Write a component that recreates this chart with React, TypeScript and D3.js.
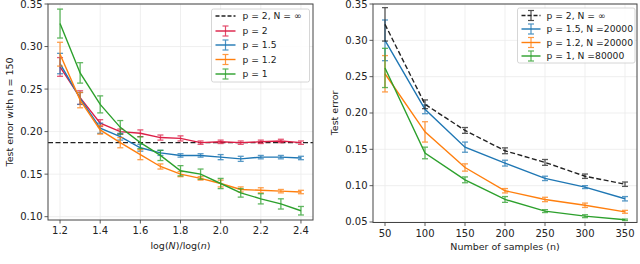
import React, { useEffect, useRef } from 'react';
import * as d3 from 'd3';

// left panel: test error vs log(N)/log(n), n = 150
const ratios = [1.2, 1.3, 1.4, 1.5, 1.6, 1.7, 1.8, 1.9, 2.0, 2.1, 2.2, 2.3, 2.4];
const errP2 = [0.276, 0.240, 0.210, 0.200, 0.198, 0.193, 0.192, 0.187, 0.188, 0.187, 0.188, 0.189, 0.187];
const errP2Sd = [0.011, 0.008, 0.004, 0.003, 0.004, 0.003, 0.003, 0.002, 0.002, 0.002, 0.002, 0.002, 0.002];
const errP15 = [0.280, 0.239, 0.204, 0.194, 0.181, 0.175, 0.172, 0.172, 0.170, 0.168, 0.170, 0.170, 0.169];
const errP15Sd = [0.012, 0.007, 0.006, 0.004, 0.004, 0.003, 0.002, 0.002, 0.003, 0.003, 0.002, 0.002, 0.002];
const errP12 = [0.291, 0.237, 0.202, 0.187, 0.173, 0.159, 0.150, 0.145, 0.139, 0.132, 0.131, 0.130, 0.129];
const errP12Sd = [0.014, 0.009, 0.005, 0.006, 0.006, 0.003, 0.003, 0.002, 0.004, 0.003, 0.003, 0.002, 0.002];
const errP1 = [0.327, 0.269, 0.232, 0.205, 0.187, 0.172, 0.154, 0.150, 0.139, 0.128, 0.121, 0.115, 0.107];
const errP1Sd = [0.017, 0.012, 0.010, 0.008, 0.007, 0.006, 0.006, 0.006, 0.006, 0.005, 0.006, 0.006, 0.005];
const baselineInf = 0.187;

// right panel: test error vs number of samples
const samples = [50, 100, 150, 200, 250, 300, 350];
const errInf = [0.322, 0.212, 0.176, 0.148, 0.132, 0.113, 0.102];
const errInfSd = [0.023, 0.006, 0.004, 0.004, 0.004, 0.003, 0.003];
const err15 = [0.300, 0.205, 0.153, 0.131, 0.110, 0.098, 0.082];
const err15Sd = [0.028, 0.006, 0.007, 0.004, 0.003, 0.002, 0.003];
const err12 = [0.254, 0.174, 0.125, 0.093, 0.081, 0.073, 0.064];
const err12Sd = [0.025, 0.014, 0.005, 0.003, 0.003, 0.003, 0.002];
const err1 = [0.262, 0.145, 0.108, 0.081, 0.065, 0.058, 0.053];
const err1Sd = [0.027, 0.008, 0.004, 0.004, 0.002, 0.002, 0.001];

const leftXTicks = [1.2, 1.4, 1.6, 1.8, 2.0, 2.2, 2.4];
const leftYTicks = [0.10, 0.15, 0.20, 0.25, 0.30, 0.35];
const rightXTicks = [50, 100, 150, 200, 250, 300, 350];
const rightYTicks = [0.05, 0.10, 0.15, 0.20, 0.25, 0.30, 0.35];

const leftLabels = ['p = 2, N = \u221e', 'p = 2', 'p = 1.5', 'p = 1.2', 'p = 1'];
const rightLabels = ['p = 2, N = \u221e', 'p = 1.5, N =20000', 'p = 1.2, N =20000', 'p = 1, N =80000'];

const RED = '#dc1e46';
const BLUE = '#1f77b4';
const ORANGE = '#ff7f0e';
const GREEN = '#2ca02c';
const FONT = 'DejaVu Sans, sans-serif';

type Series = { xs: number[]; ys: number[]; sd: number[]; color: string; dashed?: boolean };

function drawFrame(g, x, y, xTicks, yTicks, fmtX) {
  const [x0, x1] = x.range();
  const [y0, y1] = y.range();
  g.selectAll('.gx').data(xTicks).enter().append('line')
    .attr('x1', d => x(d)).attr('x2', d => x(d)).attr('y1', y0).attr('y2', y1)
    .attr('stroke', '#ebebeb').attr('stroke-width', 0.8);
  g.selectAll('.gy').data(yTicks).enter().append('line')
    .attr('x1', x0).attr('x2', x1).attr('y1', d => y(d)).attr('y2', d => y(d))
    .attr('stroke', '#ebebeb').attr('stroke-width', 0.8);
  // ticks + labels
  xTicks.forEach(t => {
    g.append('line').attr('x1', x(t)).attr('x2', x(t)).attr('y1', y0).attr('y2', y0 + 3.5)
      .attr('stroke', '#333').attr('stroke-width', 0.8);
    g.append('text').attr('x', x(t)).attr('y', y0 + 14).attr('text-anchor', 'middle')
      .attr('font-family', FONT).attr('font-size', 10).attr('fill', '#222').text(fmtX(t));
  });
  yTicks.forEach(t => {
    g.append('line').attr('x1', x0).attr('x2', x0 - 3.5).attr('y1', y(t)).attr('y2', y(t))
      .attr('stroke', '#333').attr('stroke-width', 0.8);
    g.append('text').attr('x', x0 - 5.5).attr('y', y(t)).attr('dy', '0.35em').attr('text-anchor', 'end')
      .attr('font-family', FONT).attr('font-size', 10).attr('fill', '#222').text(d3.format('.2f')(t));
  });
}

function drawSeries(g, x, y, s: Series) {
  const pts = s.xs.map((v, i) => ({ x: v, y: s.ys[i], e: s.sd[i] }));
  const bars = g.append('g').attr('stroke', s.color).attr('stroke-width', 1.3).attr('opacity', 0.75);
  pts.forEach(p => {
    bars.append('line').attr('x1', x(p.x)).attr('x2', x(p.x)).attr('y1', y(p.y - p.e)).attr('y2', y(p.y + p.e));
    [p.y - p.e, p.y + p.e].forEach(c => {
      bars.append('line').attr('x1', x(p.x) - 3).attr('x2', x(p.x) + 3).attr('y1', y(c)).attr('y2', y(c));
    });
  });
  const line = d3.line<any>().x(d => x(d.x)).y(d => y(d.y));
  g.append('path').attr('d', line(pts)).attr('fill', 'none').attr('stroke', s.color)
    .attr('stroke-width', 1.4).attr('stroke-dasharray', s.dashed ? '5,2.5' : null);
}

function drawLegend(g, left, top, width, height, items, rowY: number[], withBar: boolean[], handleW: number, textX: number) {
  g.append('rect').attr('x', left).attr('y', top).attr('width', width).attr('height', height)
    .attr('rx', 2).attr('fill', 'white').attr('fill-opacity', 0.85).attr('stroke', '#cccccc').attr('stroke-width', 0.8);
  items.forEach((it, i) => {
    const cy = rowY[i];
    const hx = left + 4;
    const mid = hx + handleW / 2;
    g.append('line').attr('x1', hx).attr('x2', hx + handleW).attr('y1', cy).attr('y2', cy)
      .attr('stroke', it.color).attr('stroke-width', 1.4).attr('stroke-dasharray', it.dashed ? '4,2' : null);
    if (withBar[i]) {
      const b = g.append('g').attr('stroke', it.color).attr('stroke-width', 1.2).attr('opacity', 0.8);
      b.append('line').attr('x1', mid).attr('x2', mid).attr('y1', cy - 5).attr('y2', cy + 5);
      b.append('line').attr('x1', mid - 3).attr('x2', mid + 3).attr('y1', cy - 5).attr('y2', cy - 5);
      b.append('line').attr('x1', mid - 3).attr('x2', mid + 3).attr('y1', cy + 5).attr('y2', cy + 5);
    }
    g.append('text').attr('x', left + textX).attr('y', cy).attr('dy', '0.35em')
      .attr('font-family', FONT).attr('font-size', 9.2).attr('fill', '#222').text(it.label);
  });
}

const App = () => {
  const svgRef = useRef<SVGSVGElement>(null);

  useEffect(() => {
    const svg = d3.select(svgRef.current);
    svg.selectAll('*').remove();

    // ---- left panel ----
    const xL = d3.scaleLinear().domain([1.14, 2.46]).range([48, 313]);
    const yL = d3.scaleLinear().domain([0.0961, 0.35]).range([220, 4]);
    const gL = svg.append('g');
    drawFrame(gL, xL, yL, leftXTicks, leftYTicks, d3.format('.1f'));
    gL.append('line').attr('x1', 48).attr('x2', 313).attr('y1', yL(baselineInf)).attr('y2', yL(baselineInf))
      .attr('stroke', '#222').attr('stroke-width', 1.4).attr('stroke-dasharray', '5,2.5');
    const leftSeries: Series[] = [
      { xs: ratios, ys: errP2, sd: errP2Sd, color: RED },
      { xs: ratios, ys: errP15, sd: errP15Sd, color: BLUE },
      { xs: ratios, ys: errP12, sd: errP12Sd, color: ORANGE },
      { xs: ratios, ys: errP1, sd: errP1Sd, color: GREEN },
    ];
    leftSeries.forEach(s => drawSeries(gL, xL, yL, s));
    gL.append('rect').attr('x', 48).attr('y', 4).attr('width', 265).attr('height', 216)
      .attr('fill', 'none').attr('stroke', '#444').attr('stroke-width', 1);
    drawLegend(gL, 211.5, 9, 98, 73, [
      { label: leftLabels[0], color: '#222', dashed: true },
      { label: leftLabels[1], color: RED },
      { label: leftLabels[2], color: BLUE },
      { label: leftLabels[3], color: ORANGE },
      { label: leftLabels[4], color: GREEN },
    ], [16, 31, 45, 59.5, 74], [false, true, true, true, true], 20, 31);
    gL.append('text').attr('transform', 'translate(13,112) rotate(-90)').attr('text-anchor', 'middle')
      .attr('font-family', FONT).attr('font-size', 9.5).attr('fill', '#222').text('Test error with n = 150');
    const xl = gL.append('text').attr('x', 180.5).attr('y', 249).attr('text-anchor', 'middle')
      .attr('font-family', FONT).attr('font-size', 9.5).attr('fill', '#222');
    xl.append('tspan').text('log(');
    xl.append('tspan').attr('font-style', 'italic').text('N');
    xl.append('tspan').text(')/log(');
    xl.append('tspan').attr('font-style', 'italic').text('n');
    xl.append('tspan').text(')');

    // ---- right panel ----
    const xR = d3.scaleLinear().domain([35, 365]).range([373, 637]);
    const yR = d3.scaleLinear().domain([0.0493, 0.35]).range([222.5, 4]);
    const gR = svg.append('g');
    drawFrame(gR, xR, yR, rightXTicks, rightYTicks, d3.format('d'));
    const rightSeries: Series[] = [
      { xs: samples, ys: err15, sd: err15Sd, color: BLUE },
      { xs: samples, ys: err12, sd: err12Sd, color: ORANGE },
      { xs: samples, ys: err1, sd: err1Sd, color: GREEN },
      { xs: samples, ys: errInf, sd: errInfSd, color: '#222', dashed: true },
    ];
    rightSeries.forEach(s => drawSeries(gR, xR, yR, s));
    gR.append('rect').attr('x', 373).attr('y', 4).attr('width', 264).attr('height', 218.5)
      .attr('fill', 'none').attr('stroke', '#444').attr('stroke-width', 1);
    drawLegend(gR, 517.5, 8, 117.5, 55, [
      { label: rightLabels[0], color: '#222', dashed: true },
      { label: rightLabels[1], color: BLUE },
      { label: rightLabels[2], color: ORANGE },
      { label: rightLabels[3], color: GREEN },
    ], [15.5, 29, 42.5, 56], [true, true, true, true], 19, 29);
    gR.append('text').attr('transform', 'translate(338,113) rotate(-90)').attr('text-anchor', 'middle')
      .attr('font-family', FONT).attr('font-size', 9.5).attr('fill', '#222').text('Test error');
    gR.append('text').attr('x', 505).attr('y', 250).attr('text-anchor', 'middle')
      .attr('font-family', FONT).attr('font-size', 9.5).attr('fill', '#222').text('Number of samples (n)');
  }, []);

  return (
    <svg ref={svgRef} width={640} height={264}
      style={{ position: 'absolute', left: 0, top: 0, background: 'white' }} />
  );
};

export default App;
